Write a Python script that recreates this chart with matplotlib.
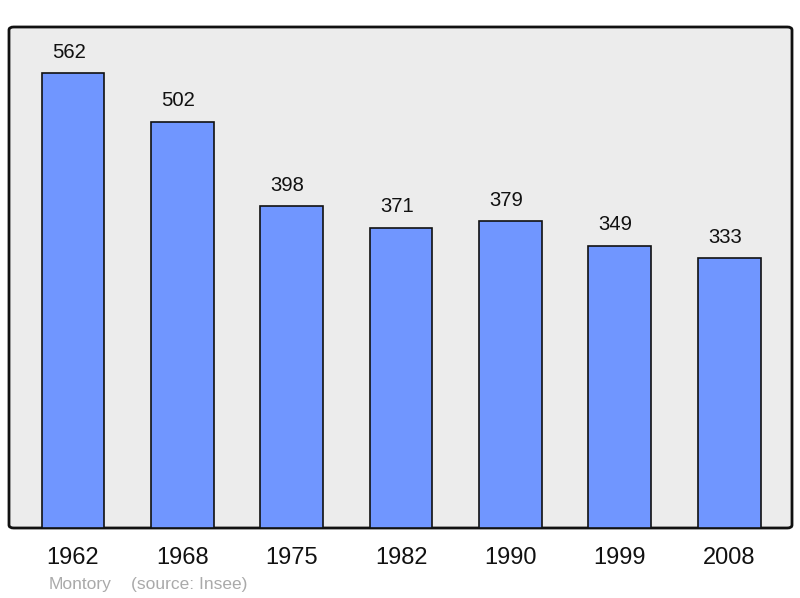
import matplotlib
matplotlib.use("Agg")
import matplotlib.pyplot as plt
from matplotlib.patches import FancyBboxPatch

years = ["1962", "1968", "1975", "1982", "1990", "1999", "2008"]
population = [562, 502, 398, 371, 379, 349, 333]

plt.rcParams['font.family'] = ['Liberation Sans', 'DejaVu Sans']

fig = plt.figure(figsize=(8, 5.98), dpi=100)
W, H = 800, 598
ax = fig.add_axes([9 / W, 1 - 528 / H, (792 - 9) / W, (528 - 27) / H])
ax.patch.set_visible(False)

# rounded frame
frame = FancyBboxPatch((0, 0), 1, 1, boxstyle="round,pad=0,rounding_size=0.006",
                       transform=ax.transAxes, facecolor='#ececec', edgecolor='#111111',
                       linewidth=2, zorder=0, clip_on=False)
ax.add_patch(frame)

x = list(range(len(years)))
ax.bar(x, population, width=0.575, color='#7096ff', edgecolor='#111111', linewidth=1.2, zorder=2)
for xi, v in zip(x, population):
    ax.annotate(str(v), (xi, v), xytext=(-3, 15), textcoords='offset points',
                ha='center', va='center', fontsize=14.6, color='#111111')

ax.set_xlim(-0.585, 6.575)
ax.set_ylim(0, 619)
for s in ax.spines.values():
    s.set_visible(False)
ax.set_yticks([])
ax.set_xticks(x)
ax.set_xticklabels(years, fontsize=17, color='#111111')
ax.tick_params(axis='x', length=0, pad=14)

fig.text(49 / W, 1 - 584 / H, "Montory", fontsize=12.5, color='#aaaaaa', va='center', ha='left')
fig.text(131 / W, 1 - 584 / H, "(source: Insee)", fontsize=12.5, color='#aaaaaa', va='center', ha='left')

fig.savefig("out.png", dpi=100, facecolor='white')
